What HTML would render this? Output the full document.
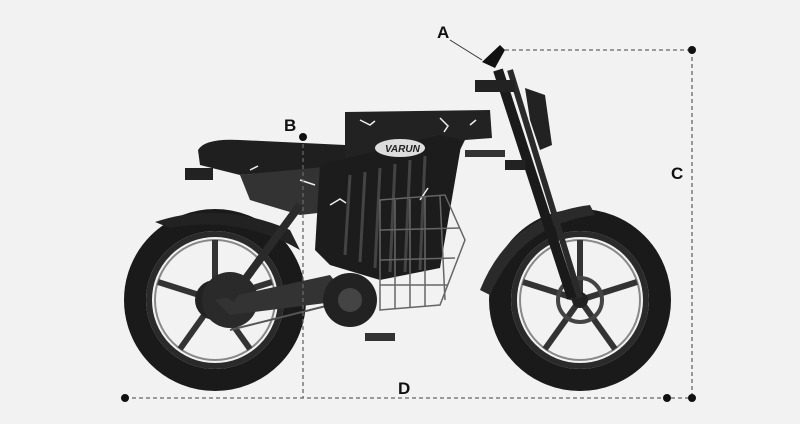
<!DOCTYPE html>
<html><head><meta charset="utf-8"><style>
html,body{margin:0;padding:0;background:#f2f2f2;}
svg{display:block}
text{font-family:"Liberation Sans",sans-serif;font-weight:bold;font-size:17px;fill:#111}
</style></head><body>
<svg width="800" height="424" viewBox="0 0 800 424">
<rect width="800" height="424" fill="#f2f2f2"/>
<!-- rear wheel -->
<g>
<circle cx="215" cy="300" r="80" fill="none" stroke="#1a1a1a" stroke-width="22"/>
<circle cx="215" cy="300" r="66" fill="none" stroke="#2a2a2a" stroke-width="6"/>
<circle cx="215" cy="300" r="60" fill="none" stroke="#888" stroke-width="2"/>
<g stroke="#333" stroke-width="6">
<line x1="215" y1="300" x2="215" y2="240"/><line x1="215" y1="300" x2="272" y2="282"/>
<line x1="215" y1="300" x2="250" y2="349"/><line x1="215" y1="300" x2="180" y2="349"/>
<line x1="215" y1="300" x2="158" y2="282"/></g>
<circle cx="215" cy="300" r="20" fill="#222"/>
<circle cx="230" cy="300" r="28" fill="#2a2a2a"/>
</g>
<!-- front wheel -->
<g>
<circle cx="580" cy="300" r="80" fill="none" stroke="#1a1a1a" stroke-width="22"/>
<circle cx="580" cy="300" r="66" fill="none" stroke="#2a2a2a" stroke-width="6"/>
<circle cx="580" cy="300" r="60" fill="none" stroke="#888" stroke-width="2"/>
<g stroke="#333" stroke-width="6">
<line x1="580" y1="300" x2="580" y2="240"/><line x1="580" y1="300" x2="637" y2="282"/>
<line x1="580" y1="300" x2="615" y2="349"/><line x1="580" y1="300" x2="545" y2="349"/>
<line x1="580" y1="300" x2="523" y2="282"/></g>
<circle cx="580" cy="300" r="22" fill="none" stroke="#444" stroke-width="4"/>
<circle cx="580" cy="300" r="8" fill="#222"/>
</g>
<!-- fenders -->
<path d="M155 222 Q220 200 290 230 L300 250 Q240 215 170 228 Z" fill="#222"/>
<path d="M480 290 Q510 215 590 205 L595 215 Q520 225 490 295 Z" fill="#2a2a2a"/>
<!-- chain stays -->
<polygon points="215,300 330,275 350,300 230,315" fill="#333"/>
<line x1="230" y1="330" x2="350" y2="300" stroke="#555" stroke-width="2"/>
<circle cx="350" cy="300" r="27" fill="#222"/>
<circle cx="350" cy="300" r="12" fill="#444"/>
<rect x="365" y="333" width="30" height="8" fill="#333"/>
<!-- seat & rear frame -->
<path d="M198 150 Q205 138 240 140 L345 145 L345 165 L300 170 L240 175 L200 165 Z" fill="#1f1f1f"/>
<polygon points="240,175 345,165 345,210 300,215 250,200" fill="#333"/>
<rect x="185" y="168" width="28" height="12" fill="#222"/>
<line x1="300" y1="205" x2="230" y2="300" stroke="#2a2a2a" stroke-width="8"/>
<!-- top frame -->
<polygon points="345,112 490,110 492,138 465,140 455,160 345,165" fill="#222"/>
<!-- battery panel -->
<polygon points="320,165 440,135 462,140 440,268 380,280 330,265 315,250" fill="#1c1c1c"/>
<g stroke="#444" stroke-width="3">
<line x1="350" y1="175" x2="345" y2="255"/><line x1="365" y1="172" x2="360" y2="262"/>
<line x1="380" y1="168" x2="375" y2="268"/><line x1="395" y1="164" x2="390" y2="272"/>
<line x1="410" y1="160" x2="405" y2="272"/><line x1="425" y1="156" x2="420" y2="270"/>
</g>
<ellipse cx="400" cy="148" rx="25" ry="9" fill="#ddd"/>
<text x="385" y="152" style="font-size:10px;font-style:italic;fill:#222">VARUN</text>
<!-- white cracks -->
<g stroke="#eee" stroke-width="1.5" fill="none">
<path d="M360 120 l10 5 l5 -4 M440 118 l8 8 l-4 6 M470 125 l6 -5 M330 205 l10 -6 l6 4 M250 170 l8 -4 M420 200 l8 -12 M300 180 l15 5"/>
</g>
<!-- basket -->
<g stroke="#666" stroke-width="1.5" fill="none">
<polygon points="380,200 445,195 465,240 440,305 380,310"/>
<line x1="395" y1="200" x2="395" y2="308"/><line x1="410" y1="199" x2="410" y2="307"/>
<line x1="425" y1="197" x2="425" y2="306"/><line x1="440" y1="196" x2="445" y2="300"/>
<line x1="380" y1="230" x2="460" y2="228"/><line x1="380" y1="260" x2="455" y2="258"/>
<line x1="380" y1="285" x2="448" y2="285"/>
</g>
<!-- cross tube -->
<rect x="465" y="150" width="40" height="7" fill="#333"/>
<!-- fork -->
<line x1="498" y1="70" x2="572" y2="298" stroke="#1a1a1a" stroke-width="10"/>
<line x1="510" y1="70" x2="580" y2="298" stroke="#2a2a2a" stroke-width="6"/>
<rect x="475" y="80" width="40" height="12" fill="#222"/>
<polygon points="482,62 500,45 505,50 495,68" fill="#111"/>
<polygon points="525,88 545,95 552,145 540,150 530,120" fill="#222"/>
<rect x="505" y="160" width="20" height="10" fill="#222"/>
<!-- dimension lines -->
<g stroke="#666" stroke-width="1.3" stroke-dasharray="4,3" fill="none">
<line x1="505" y1="50" x2="692" y2="50"/>
<line x1="692" y1="50" x2="692" y2="398"/>
<line x1="125" y1="398" x2="692" y2="398"/>
<line x1="303" y1="137" x2="303" y2="398"/>
</g>
<line x1="450" y1="40" x2="482" y2="60" stroke="#333" stroke-width="1"/>
<g fill="#111">
<circle cx="692" cy="50" r="4"/><circle cx="692" cy="398" r="4"/>
<circle cx="125" cy="398" r="4"/><circle cx="667" cy="398" r="4"/>
<circle cx="303" cy="137" r="4"/>
</g>
<text x="437" y="38">A</text>
<text x="284" y="131">B</text>
<text x="671" y="179">C</text>
<text x="398" y="394">D</text>
</svg>
</body></html>
